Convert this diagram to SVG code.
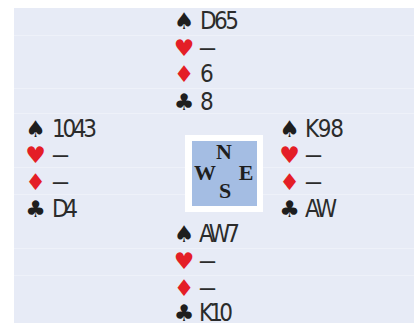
<svg xmlns="http://www.w3.org/2000/svg" width="414" height="323" viewBox="0 0 414 323">
<style>
.bg{fill:#e7ebf6}
.ln{stroke:#eef1f9;stroke-width:1}
.v{font-family:"Liberation Sans Narrow","DejaVu Sans Condensed","Liberation Sans",sans-serif;font-size:24px;fill:#2b2b2b}
.s{font-family:"DejaVu Sans",sans-serif;font-size:23px;text-anchor:middle}
.k{fill:#1e1e1e}
.r{fill:#e41e26}
.c{font-family:"Liberation Serif",serif;font-weight:bold;font-size:22px;fill:#1e1e1e;text-anchor:middle}
</style>
<rect class="bg" x="14" y="8" width="400" height="315"/>
<g id="rules">
<line class="ln" x1="14" y1="35.5" x2="414" y2="35.5"/>
<line class="ln" x1="14" y1="88.5" x2="414" y2="88.5"/>
<line class="ln" x1="14" y1="113.5" x2="414" y2="113.5"/>
<line class="ln" x1="14" y1="167.5" x2="414" y2="167.5"/>
<line class="ln" x1="14" y1="194.5" x2="414" y2="194.5"/>
<line class="ln" x1="14" y1="248.5" x2="414" y2="248.5"/>
<line class="ln" x1="14" y1="275.5" x2="414" y2="275.5"/>
</g>
<g id="north">
<text class="s k" x="184" y="29">♠</text><text class="v" x="200" y="29" textLength="39" lengthAdjust="spacing">D65</text>
<text class="s r" x="184" y="56">♥</text><text class="v" x="199" y="56" textLength="17" lengthAdjust="spacingAndGlyphs">—</text>
<text class="s r" x="184" y="82">♦</text><text class="v" x="200" y="82">6</text>
<text class="s k" x="184" y="110">♣</text><text class="v" x="200" y="110">8</text>
</g>
<g id="west">
<text class="s k" x="35.5" y="137">♠</text><text class="v" x="52" y="137" textLength="45" lengthAdjust="spacing">1043</text>
<text class="s r" x="35.5" y="163">♥</text><text class="v" x="52" y="163" textLength="17" lengthAdjust="spacingAndGlyphs">—</text>
<text class="s r" x="35.5" y="190">♦</text><text class="v" x="52" y="190" textLength="17" lengthAdjust="spacingAndGlyphs">—</text>
<text class="s k" x="35.5" y="217">♣</text><text class="v" x="52" y="217" textLength="26" lengthAdjust="spacing">D4</text>
</g>
<g id="east">
<text class="s k" x="289.5" y="137">♠</text><text class="v" x="305" y="137" textLength="39" lengthAdjust="spacing">K98</text>
<text class="s r" x="289.5" y="163">♥</text><text class="v" x="305" y="163" textLength="17" lengthAdjust="spacingAndGlyphs">—</text>
<text class="s r" x="289.5" y="190">♦</text><text class="v" x="305" y="190" textLength="17" lengthAdjust="spacingAndGlyphs">—</text>
<text class="s k" x="289.5" y="217">♣</text><text class="v" x="305" y="217" textLength="32" lengthAdjust="spacing">AW</text>
</g>
<g id="south">
<text class="s k" x="184" y="242">♠</text><text class="v" x="199" y="242" textLength="41" lengthAdjust="spacing">AW7</text>
<text class="s r" x="184" y="269">♥</text><text class="v" x="199" y="269" textLength="17" lengthAdjust="spacingAndGlyphs">—</text>
<text class="s r" x="184" y="296">♦</text><text class="v" x="199" y="296" textLength="17" lengthAdjust="spacingAndGlyphs">—</text>
<text class="s k" x="184" y="321">♣</text><text class="v" x="199" y="321" textLength="34" lengthAdjust="spacing">K10</text>
</g>
<g id="compass">
<rect x="185" y="135" width="78" height="77" fill="#ffffff"/>
<rect x="192" y="141" width="65" height="65" fill="#a4bde3"/>
<text class="c" x="224" y="159">N</text>
<text class="c" x="205" y="180">W</text>
<text class="c" x="246" y="180">E</text>
<text class="c" x="225" y="198">S</text>
</g>
</svg>
